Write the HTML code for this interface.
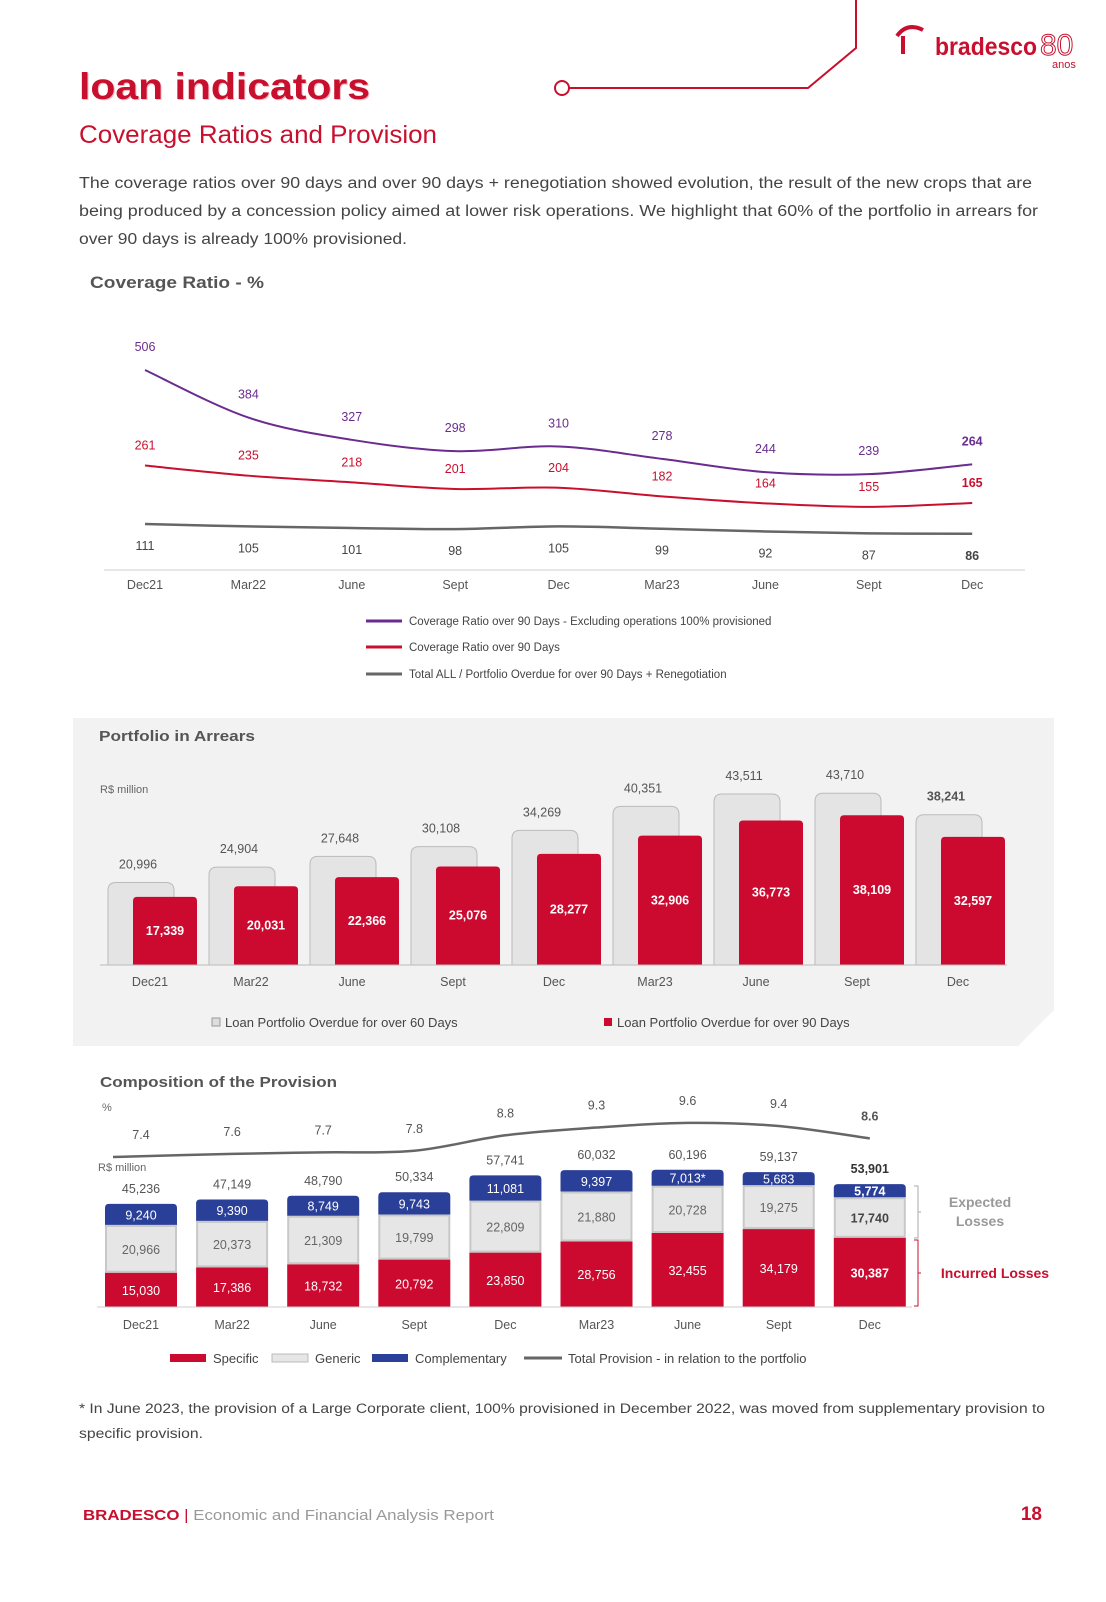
<!DOCTYPE html>
<html><head><meta charset="utf-8"><style>
html,body{margin:0;padding:0;background:#fff;}
svg{display:block;font-family:"Liberation Sans",sans-serif;}
</style></head><body>
<svg id="pg" width="1106" height="1602" viewBox="0 0 1106 1602" xmlns="http://www.w3.org/2000/svg">
<g>
<polyline points="856,0 856,48 808,88 569,88" fill="none" stroke="#c8102e" stroke-width="2"/>
<circle cx="562" cy="88" r="7" fill="#fff" stroke="#c8102e" stroke-width="2"/>
</g>
<g>
<path d="M897 36 q10 -14 26 -6 M903 36 v18" stroke="#c8102e" stroke-width="4" fill="none"/>
<text x="935" y="55" font-size="25" font-weight="bold" fill="#c8102e" textLength="102" lengthAdjust="spacingAndGlyphs">bradesco</text>
<text x="1040" y="55" font-size="30" fill="none" stroke="#c8102e" stroke-width="1">80</text>
<text x="1052" y="68" font-size="11" fill="#c8102e">anos</text>
</g>
<text x="80" y="100" font-size="37" font-weight="bold" fill="#f3b8c0" textLength="291" lengthAdjust="spacingAndGlyphs">loan indicators</text>
<text x="79" y="99" font-size="37" font-weight="bold" fill="#c8102e" textLength="291" lengthAdjust="spacingAndGlyphs">loan indicators</text>
<text x="79" y="143" font-size="25" fill="#c8102e" textLength="358" lengthAdjust="spacingAndGlyphs">Coverage Ratios and Provision</text>
<g font-size="15.5" fill="#444">
<text x="79" y="188" textLength="953" lengthAdjust="spacingAndGlyphs">The coverage ratios over 90 days and over 90 days + renegotiation showed evolution, the result of the new crops that are</text>
<text x="79" y="216" textLength="959" lengthAdjust="spacingAndGlyphs">being produced by a concession policy aimed at lower risk operations. We highlight that 60% of the portfolio in arrears for</text>
<text x="79" y="244" textLength="328" lengthAdjust="spacingAndGlyphs">over 90 days is already 100% provisioned.</text>
</g>
<text x="90" y="288" font-size="17" font-weight="bold" fill="#555" textLength="174" lengthAdjust="spacingAndGlyphs">Coverage Ratio - %</text>
<g id="cov"></g>
<path d="M73 718 H1054 V1010 L1018 1046 H73 Z" fill="#f2f2f2"/>
<text x="99" y="741" font-size="15" font-weight="bold" fill="#555" textLength="156" lengthAdjust="spacingAndGlyphs">Portfolio in Arrears</text>
<text x="100" y="793" font-size="11" fill="#666">R$ million</text>
<g id="arr"></g>
<text x="100" y="1087" font-size="15" font-weight="bold" fill="#555" textLength="237" lengthAdjust="spacingAndGlyphs">Composition of the Provision</text>
<text x="102" y="1111" font-size="11" fill="#666">%</text>
<text x="98" y="1171" font-size="11" fill="#666">R$ million</text>
<g id="prov"></g>
<g>
<path d="M914 1186 h4 v52 h-4 M918 1212 h3" stroke="#aaa" fill="none"/>
<path d="M914 1240 h4 v66 h-4 M918 1273 h3" stroke="#c8102e" fill="none"/>
<text x="980" y="1207" font-size="14" font-weight="bold" fill="#999" text-anchor="middle">Expected</text>
<text x="980" y="1226" font-size="14" font-weight="bold" fill="#999" text-anchor="middle">Losses</text>
<text x="995" y="1278" font-size="14" font-weight="bold" fill="#c8102e" text-anchor="middle">Incurred Losses</text>
</g>
<g font-size="13.5" fill="#444">
<text x="79" y="1413" textLength="966" lengthAdjust="spacingAndGlyphs">* In June 2023, the provision of a Large Corporate client, 100% provisioned in December 2022, was moved from supplementary provision to</text>
<text x="79" y="1438" textLength="124" lengthAdjust="spacingAndGlyphs">specific provision.</text>
</g>
<text x="83" y="1520" font-size="15" fill="#999" textLength="411" lengthAdjust="spacingAndGlyphs"><tspan font-weight="bold" fill="#c8102e">BRADESCO</tspan><tspan fill="#c8102e"> | </tspan>Economic and Financial Analysis Report</text>
<text x="1042" y="1520" font-size="19" font-weight="bold" fill="#c8102e" text-anchor="end">18</text>
</svg>
<script>
const periods=["Dec21","Mar22","June","Sept","Dec","Mar23","June","Sept","Dec"];
const covExcl=[506,384,327,298,310,278,244,239,264];
const cov90=[261,235,218,201,204,182,164,155,165];
const covAll=[111,105,101,98,105,99,92,87,86];
const arr60=[20996,24904,27648,30108,34269,40351,43511,43710,38241];
const arr90=[17339,20031,22366,25076,28277,32906,36773,38109,32597];
const provSpecific=[15030,17386,18732,20792,23850,28756,32455,34179,30387];
const provGeneric=[20966,20373,21309,19799,22809,21880,20728,19275,17740];
const provCompl=[9240,9390,8749,9743,11081,9397,7013,5683,5774];
const provTotal=[45236,47149,48790,50334,57741,60032,60196,59137,53901];
const provPct=[7.4,7.6,7.7,7.8,8.8,9.3,9.6,9.4,8.6];

const NS="http://www.w3.org/2000/svg";
function mk(p,tag,at,txt){const e=document.createElementNS(NS,tag);for(const k in at)e.setAttribute(k,at[k]);if(txt!==undefined)e.textContent=txt;p.appendChild(e);return e;}
const fmt=v=>v.toLocaleString("en-US");
function smooth(pts){let d="M"+pts[0][0]+" "+pts[0][1];for(let i=0;i<pts.length-1;i++){const p0=pts[i-1]||pts[i],p1=pts[i],p2=pts[i+1],p3=pts[i+2]||p2;const c1x=p1[0]+(p2[0]-p0[0])/6,c1y=p1[1]+(p2[1]-p0[1])/6,c2x=p2[0]-(p3[0]-p1[0])/6,c2y=p2[1]-(p3[1]-p1[1])/6;d+=` C${c1x} ${c1y} ${c2x} ${c2y} ${p2[0]} ${p2[1]}`;}return d;}

// Coverage chart
const cov=document.getElementById("cov");
const cx=i=>145+i*103.4, cy=v=>370+(506-v)*0.39;
let l=mk(cov,"line",{x1:104,x2:1025,y1:570,y2:570,stroke:"#ccc"});


periods.forEach((p,i)=>{const t=mk(cov,"text",{x:cx(i),y:589,"font-size":12.5,fill:"#555","text-anchor":"middle"},p);

});
[[covExcl,"#6a2c8e",-19],[cov90,"#c8102e",-16],[covAll,"#666",26]].forEach(([s,c,off],k)=>{
 const path=mk(cov,"path",{d:smooth(s.map((v,i)=>[cx(i),cy(v)])),fill:"none",stroke:c,"stroke-width":k==2?2.5:2});
 
 
 s.forEach((v,i)=>{const t=mk(cov,"text",{x:cx(i),y:cy(v)+off,"font-size":12.5,fill:c==="#666"?"#444":c,"text-anchor":"middle","font-weight":i==8?"bold":"normal"},v);
 
 });
});
[["#6a2c8e","Coverage Ratio over 90 Days - Excluding operations 100% provisioned",621],["#c8102e","Coverage Ratio over 90 Days",647],["#666","Total ALL / Portfolio Overdue for over 90 Days + Renegotiation",674]].forEach(([c,tx,y])=>{
 const g=mk(cov,"g",{});
 
 
 mk(g,"line",{x1:366,x2:402,y1:y,y2:y,stroke:c,"stroke-width":3});
 mk(g,"text",{x:409,y:y+4,"font-size":11.5,fill:"#444"},tx);
});

// Arrears chart
const arr=document.getElementById("arr");
const ax=i=>108+i*101, ah=v=>v*0.00393, base=965;
periods.forEach((p,i)=>{
 const g=mk(arr,"g",{});
 
 
 const h60=ah(arr60[i]),h90=ah(arr90[i]);
 const r1=mk(g,"path",{d:`M${ax(i)} ${base} V${base-h60+8} q0 -8 8 -8 H${ax(i)+58} q8 0 8 8 V${base} Z`,fill:"#e4e4e4",stroke:"#bbb","stroke-width":1});
 
 
 const r2=mk(g,"path",{d:`M${ax(i)+25} ${base} V${base-h90+4} q0 -4 4 -4 H${ax(i)+85} q4 0 4 4 V${base} Z`,fill:"#cc0a2f"});
 
 
 mk(g,"text",{x:ax(i)+30,y:base-h60-14,"font-size":12.5,fill:"#555","text-anchor":"middle","font-weight":i==8?"bold":"normal"},fmt(arr60[i]));
 mk(g,"text",{x:ax(i)+57,y:base-h90/2+4,"font-size":12.5,fill:"#fff","font-weight":"bold","text-anchor":"middle"},fmt(arr90[i]));
 mk(g,"text",{x:ax(i)+42,y:986,"font-size":12.5,fill:"#555","text-anchor":"middle"},p);
});
l=mk(arr,"line",{x1:100,x2:1007,y1:base,y2:base,stroke:"#bbb"});


[[212,"#ddd","Loan Portfolio Overdue for over 60 Days"],[604,"#cc0a2f","Loan Portfolio Overdue for over 90 Days"]].forEach(([x,c,t])=>{
 const g=mk(arr,"g",{});
 
 
 mk(g,"rect",{x:x,y:1018,width:8,height:8,fill:c,stroke:c=="#ddd"?"#999":"none"});
 mk(g,"text",{x:x+13,y:1027,"font-size":13,fill:"#444"},t);
});

// Provision chart
const prov=document.getElementById("prov");
const px=i=>141+i*91.1, ph=v=>v*0.00228, pb=1307, py=v=>1157-(v-7.4)*15.5;
periods.forEach((p,i)=>{
 const g=mk(prov,"g",{});
 
 
 const x0=px(i)-36, bold=i==8?"bold":"normal";
 const hs=ph(provSpecific[i]),hg=ph(provGeneric[i]),hc=ph(provCompl[i]);
 const s=mk(g,"rect",{x:x0,y:pb-hs,width:72,height:hs,fill:"#cc0a2f"});
 
 
 const gr=mk(g,"rect",{x:x0+1,y:pb-hs-hg+1,width:70,height:hg-2,fill:"#e6e6e6",stroke:"#c8c8c8","stroke-width":2});
 
 
 const c=mk(g,"path",{d:`M${x0} ${pb-hs-hg} V${pb-hs-hg-hc+4} q0 -4 4 -4 H${x0+68} q4 0 4 4 V${pb-hs-hg} Z`,fill:"#2a3f97"});
 
 
 mk(g,"text",{x:px(i),y:pb-hs/2+5,"font-size":12.5,fill:"#fff","text-anchor":"middle","font-weight":bold},fmt(provSpecific[i]));
 mk(g,"text",{x:px(i),y:pb-hs-hg/2+5,"font-size":12.5,fill:i==8?"#444":"#666","text-anchor":"middle","font-weight":bold},fmt(provGeneric[i]));
 mk(g,"text",{x:px(i),y:pb-hs-hg-hc/2+5,"font-size":12.5,fill:"#fff","text-anchor":"middle","font-weight":bold},fmt(provCompl[i])+(i==6?"*":""));
 mk(g,"text",{x:px(i),y:pb-ph(provTotal[i])-11,"font-size":12.5,fill:i==8?"#333":"#555","text-anchor":"middle","font-weight":bold},fmt(provTotal[i]));
 mk(g,"text",{x:px(i),y:1329,"font-size":12.5,fill:"#555","text-anchor":"middle"},p);
 mk(g,"text",{x:px(i),y:py(provPct[i])-18,"font-size":12.5,fill:"#555","text-anchor":"middle","font-weight":bold},provPct[i]);
});
l=mk(prov,"line",{x1:97,x2:912,y1:pb,y2:pb,stroke:"#ccc"});


const pl=mk(prov,"path",{d:smooth(provPct.map((v,i)=>[px(i)+(i==0?-28:0),py(v)])),fill:"none",stroke:"#666","stroke-width":2.5});


[[170,"#cc0a2f","Specific"],[272,"#e6e6e6","Generic"],[372,"#2a3f97","Complementary"],[524,null,"Total Provision - in relation to the portfolio"]].forEach(([x,c,t])=>{
 const g=mk(prov,"g",{});
 
 
 if(c)mk(g,"rect",{x:x,y:1354,width:36,height:8,fill:c,stroke:c=="#e6e6e6"?"#bbb":"none"});
 else mk(g,"line",{x1:x,x2:x+38,y1:1358,y2:1358,stroke:"#666","stroke-width":3});
 mk(g,"text",{x:x+(c?43:44),y:1363,"font-size":13,fill:"#444"},t);
});
</script>
</body></html>
